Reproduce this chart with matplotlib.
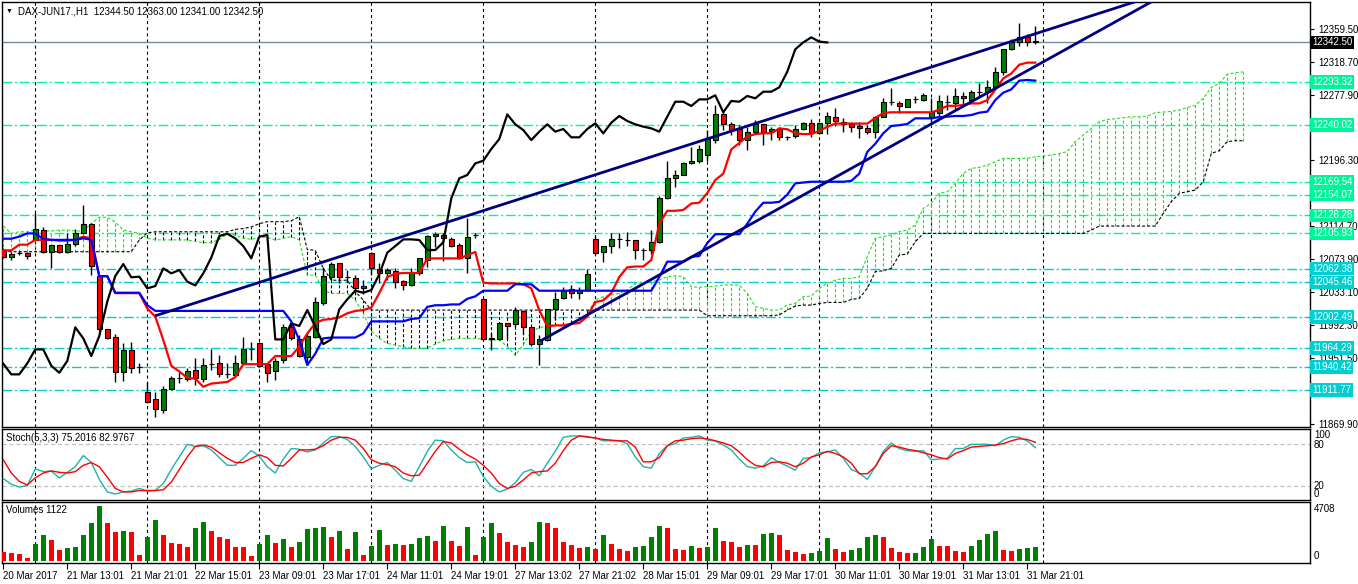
import matplotlib
matplotlib.use("Agg")
import matplotlib.pyplot as plt

plt.rcParams['font.family'] = ['Liberation Sans', 'DejaVu Sans']
plt.rcParams['lines.scale_dashes'] = False

W, H = 1358, 584

# ---- H1 candles, DAX-JUN17 (bar 0 = 20 Mar 19:01) ----
opens = [12085, 12076.3, 12082, 12082, 12097.8, 12110.2, 12082.9, 12091.2, 12082.9, 12092.4,
         12106.9, 12117.2, 12053.2, 11987, 11977.6, 11934.7, 11961.1, 11940, 11909.5, 11900.4,
         11887.2, 11912.8, 11926.4, 11925.6, 11936.3, 11925.6, 11944.6, 11945, 11931.4, 11930.5,
         11945, 11962.3, 11970.6, 11944.2, 11936, 11949.1, 11989.6, 11974.7, 11953.3, 11978,
         12020.2, 12052.4, 12068.9, 12052.4, 12051.1, 12037.9, 12082.1, 12061.4, 12056.5, 12059.8,
         12047, 12041.6, 12056.5, 12073, 12102.7, 12104, 12098.6, 12091.6, 12075.1, 12104,
         12024.3, 11976, 11974.7, 11994.6, 11993.7, 12010.2, 11989.6, 11968.9, 11973.9, 12011.9,
         12025.5, 12036.7, 12032.5, 12035.8, 12098.6, 12083.3, 12090.3, 12098.6, 12097.8, 12097.8,
         12085.4, 12085.4, 12094.9, 12149.4, 12174.2, 12178.3, 12192.7, 12196, 12203, 12221.6,
         12253.4, 12241.1, 12235.3, 12221.6, 12231.2, 12241.1, 12232.8, 12235.3, 12225, 12226.6,
         12234.9, 12242.3, 12229.9, 12243.1, 12250.6, 12244.4, 12241.5, 12239, 12236.1, 12232,
         12250.6, 12269.1, 12267.9, 12262.9, 12272, 12271.2, 12250.6, 12254.7, 12269.1, 12267.1,
         12276.2, 12271.2, 12281.5, 12281.5, 12286.9, 12306.3, 12334, 12342.6, 12348.8, 12344.5]
highs = [12088, 12082.5, 12084.5, 12083, 12130.8, 12114.3, 12091.5, 12092, 12106.9, 12111,
         12141.1, 12119.2, 12054, 11987.5, 11980.9, 11970.6, 11971.8, 11946, 11922.3, 11909,
         11916.9, 11929.3, 11934.7, 11939.6, 11951.2, 11951.2, 11962.3, 11955.3, 11945, 11955.3,
         11978, 11971.8, 11971, 11945, 11952, 11993.7, 11993.7, 11980, 11982.1, 12027.6,
         12064.7, 12070.9, 12069, 12060.6, 12054.4, 12048.2, 12083, 12068.9, 12062.7, 12062.7,
         12048.2, 12062.7, 12075.1, 12104, 12108.1, 12106, 12101.9, 12093.6, 12124.6, 12106.9,
         12025.5, 11982.1, 11995, 11995.4, 12015.2, 12011, 11990, 11980, 12012.7, 12033.8,
         12040, 12042.1, 12040, 12061.4, 12102.7, 12091, 12106, 12106, 12108.1, 12098,
         12087.5, 12110.2, 12152.7, 12195.6, 12184.5, 12194.8, 12213.4, 12215.5, 12234, 12265,
         12258.8, 12244.4, 12240.2, 12238.2, 12246.4, 12242, 12238.2, 12238.2, 12226.6, 12240.2,
         12244.4, 12247.3, 12243.5, 12256.3, 12260.9, 12249.3, 12244.4, 12244.4, 12240.2, 12251.4,
         12273.3, 12285.7, 12270.4, 12272.5, 12276.2, 12279.5, 12273.3, 12277.4, 12277.4, 12285.7,
         12281.5, 12283.6, 12292.7, 12296, 12312.5, 12334, 12346.4, 12367, 12353, 12363]
lows = [12075, 12073, 12079, 12074, 12097.5, 12082, 12063.5, 12082, 12082, 12091,
        12106, 12054, 11985, 11975, 11922.3, 11923, 11933.4, 11932.6, 11896, 11878.9,
        11883.9, 11912, 11920.2, 11923, 11918.2, 11922.3, 11936.7, 11928.5, 11926.4, 11930,
        11945, 11949, 11940, 11922, 11925, 11946, 11974, 11953, 11943, 11977,
        12017, 12048, 12045, 12046, 12031.7, 12030.5, 12054.4, 12045, 12048, 12037.9,
        12035.9, 12041, 12054.4, 12064.7, 12089.5, 12072.2, 12089.5, 12073.9, 12056.5, 12099.8,
        11974, 11961.5, 11974, 11974.7, 11990.5, 11982, 11966, 11943, 11973, 11998.7,
        12025, 12025.5, 12024.3, 12035, 12081, 12071, 12082.1, 12087.5, 12090.3, 12073.8,
        12073, 12080.4, 12094, 12149, 12163.8, 12178, 12191.9, 12193.5, 12196, 12217.5,
        12234, 12227.8, 12215.4, 12209.2, 12230, 12215.4, 12221.6, 12221.6, 12221.6, 12223.7,
        12234, 12225, 12229, 12229, 12239, 12232, 12232, 12223.7, 12229, 12223.7,
        12250, 12265, 12255.5, 12262, 12267, 12270.4, 12244.4, 12250.6, 12258.8, 12258.8,
        12263, 12271, 12275.4, 12267, 12285.7, 12302.2, 12333, 12338.1, 12338.1, 12341]
closes = [12077, 12080.4, 12082, 12078, 12111, 12082.9, 12091.2, 12082.9, 12092.4, 12106.9,
          12117.2, 12065.6, 11987.1, 11976.8, 11934.7, 11961.1, 11939.6, 11940, 11897, 11888.8,
          11912.8, 11926.4, 11926.4, 11935.5, 11926.4, 11943.3, 11944.6, 11931.4, 11931.4, 11945,
          11962.3, 11962.3, 11942.1, 11933.4, 11948, 11989.6, 11976, 11954.1, 11978.9, 12021.4,
          12053.2, 12068, 12051.6, 12052.4, 12037.9, 12040.8, 12062.7, 12056.5, 12060.6, 12046.2,
          12041.6, 12056.5, 12076, 12102.7, 12105.6, 12099.8, 12090.3, 12075.1, 12101.9, 12104,
          11974.7, 11974.7, 11994.6, 11991.3, 12011.1, 11990.5, 11968.9, 11974.7, 12011.9, 12024.3,
          12035, 12032.5, 12035.8, 12055.3, 12082.1, 12090.3, 12098.6, 12098.6, 12097.8, 12085.4,
          12085.4, 12094.9, 12149.4, 12174.2, 12178.3, 12192.7, 12196, 12210.5, 12222.9, 12253.4,
          12241.1, 12234, 12221.6, 12232, 12241.1, 12232, 12235.3, 12225, 12225, 12235.3,
          12242.3, 12229.9, 12243.1, 12251.4, 12245.2, 12241.1, 12238.2, 12236.1, 12232, 12250.6,
          12269.1, 12269.1, 12263.8, 12272, 12272, 12277, 12256, 12270, 12269.1, 12276.2,
          12273.3, 12281.5, 12281.5, 12286.9, 12306.3, 12334, 12342.6, 12348.8, 12343.5, 12342.5]
volumes = [736, 657, 605, 289, 1394, 2078, 1710, 894, 1078, 1157,
           2078, 3025, 4366, 3025, 2314, 2393, 2314, 500, 1920, 3261,
           2078, 1447, 1368, 1131, 2630, 3103, 2393, 1920, 1762, 1131,
           1100, 421, 1368, 2078, 1447, 1762, 1131, 1525, 2551, 2630,
           2709, 1920, 2393, 973, 2314, 500, 1210, 2472, 1289, 1368,
           1270, 1368, 1841, 1999, 1604, 2788, 1604, 1210, 2709, 500,
           1920, 3025, 2236, 1525, 1289, 1131, 1525, 3103, 3025, 2630,
           1525, 1289, 1052, 1131, 973, 2078, 1368, 973, 815, 1131,
           1210, 1920, 2788, 2630, 973, 894, 1210, 1052, 1131, 2630,
           1604, 1525, 1131, 1289, 1270, 2157, 2236, 2078, 894, 736,
           579, 657, 815, 1841, 973, 736, 894, 1052, 1920, 2078,
           1920, 1052, 736, 650, 690, 1131, 1762, 1210, 1200, 815,
           736, 1210, 1683, 2157, 2393, 894, 815, 973, 1052, 1122]

# ---- Ichimoku ----
tenkan = [12085, 12085, 12092, 12092, 12098, 12098, 12098, 12097, 12097, 12098,
          12102, 12100, 12053, 12053, 12032, 12032, 12032, 12032, 12013, 12003,
          11974, 11942, 11935, 11927, 11926, 11916, 11920, 11921, 11922, 11928,
          11944, 11944, 11944, 11944, 11954, 11954, 11954, 11966, 11982, 11995,
          11999, 12000, 12002, 12007, 12010, 12011, 12014, 12032, 12052, 12056,
          12057, 12057, 12057, 12075, 12075, 12075, 12075, 12075, 12079, 12083,
          12045, 12044, 12044, 12044, 12044, 12043, 12038, 12011, 11991, 11992,
          11992, 11994, 11995, 12003, 12021, 12023, 12032, 12052, 12064, 12065,
          12065, 12073, 12118, 12134, 12134, 12135, 12143, 12144, 12156, 12172,
          12180, 12210, 12218, 12226, 12229, 12230, 12230, 12236, 12235, 12230,
          12229, 12229, 12233, 12238, 12242, 12242, 12242, 12242, 12242, 12249,
          12255, 12256, 12256, 12256, 12256, 12256, 12256, 12259, 12264, 12264,
          12265, 12267, 12267, 12271, 12284, 12298, 12304, 12315, 12317.5, 12317.5]
kijun = [12099.4, 12099.4, 12102, 12106, 12106, 12099, 12098, 12098, 12098, 12098,
         12100, 12098, 12053, 12053, 12032.5, 12032.5, 12032.5, 12032.5, 12017, 12010,
         12010, 12010, 12010, 12010, 12010, 12010, 12010, 12010, 12010, 12010,
         12010, 12010, 12010, 12010, 12010, 12010, 11997, 11974, 11943, 11957,
         11976, 11977, 11977, 11977, 11977, 11982, 11997, 11997, 11997, 11997,
         11997, 12000, 12001, 12015, 12017, 12017, 12018, 12018, 12025, 12028,
         12035, 12035, 12035, 12035, 12043, 12043, 12043, 12035, 12035, 12035,
         12035, 12035, 12035, 12035, 12035, 12035, 12035, 12035, 12035, 12035,
         12035, 12035, 12052, 12071, 12071, 12071, 12077, 12078, 12094, 12105,
         12105, 12105, 12105, 12118, 12133, 12144, 12144, 12145, 12154, 12168,
         12169, 12170, 12170, 12170, 12170, 12170, 12171, 12180, 12207, 12217,
         12230, 12239, 12240, 12241.5, 12248.5, 12248.5, 12248.5, 12250, 12250.6, 12251.4,
         12251.4, 12252.6, 12255.5, 12256.8, 12271.2, 12280.3, 12284.4, 12295.2, 12296, 12295.2]
span_a = [12115, 12106, 12108, 12108, 12110, 12109, 12109, 12110, 12110, 12109,
          12109, 12118, 12126, 12126, 12120, 12110, 12108, 12106, 12100, 12098,
          12098, 12098, 12098, 12098, 12096, 12094.5, 12094.5, 12098.6, 12105, 12104,
          12100, 12098.6, 12101, 12101, 12097.8, 12099.8, 12101.9, 12097.8, 12054.4, 12054.4,
          12035.9, 12031.7, 12031.7, 12031.7, 12023.5, 12007, 11985, 11976, 11969.8, 11967.7,
          11965.7, 11963.6, 11963.6, 11963.6, 11969, 11973.1, 11974.7, 11976, 11976, 11976,
          11974.7, 11973.9, 11973.9, 11966, 11955, 11968, 11984.2, 11989.2, 11991.3, 11992.5,
          11992.5, 11994.6, 11998.7, 12006.9, 12023.5, 12027.6, 12029.6, 12031.7, 12035.8, 12044.1,
          12044.9, 12046.2, 12048.2, 12052.4, 12053.6, 12052.4, 12040, 12039.2, 12040, 12040.8,
          12042.1, 12042.1, 12042.1, 12031.7, 12015.2, 12013.1, 12011, 12011, 12017.3, 12019.3,
          12027.6, 12028.4, 12037.9, 12044, 12048.2, 12050.3, 12050.3, 12052.3, 12077.1, 12099.8,
          12101.9, 12104, 12108.1, 12110.2, 12116.3, 12137, 12143.2, 12155.6, 12157.6, 12167.9,
          12180.3, 12186.5, 12187.8, 12190.6, 12194.8, 12198.9, 12198.9, 12198.9, 12198.9, 12201,
          12201.8, 12203, 12205, 12207.2, 12219.6, 12227.8, 12236.1, 12244.3, 12247.2, 12248,
          12249.3, 12250.5, 12250.5, 12251.3, 12255.5, 12256.3, 12257.1, 12258.8, 12262, 12264.6,
          12273.2, 12286.9, 12291.8, 12303.4, 12305, 12306]
span_b = [12083.3] * 17 + [12097.8, 12106.8] + [12108] * 10 + \
         [12111, 12112, 12114, 12118, 12120.5, 12120.5, 12120.5, 12121.7, 12126.7, 12086,
          12085, 12062.7, 12048, 12048, 12048, 12033.8, 12023.5] + [12011] * 42 + \
         [12004] * 9 + [12005, 12011, 12016,
          12017.2, 12017.2, 12019.3, 12020.5, 12020.5, 12020.5, 12024.2, 12025.5, 12037.9, 12058.5,
          12059.8, 12062.7, 12079.2, 12080.4, 12095.7] + [12106] * 21 + \
         [12110.1] + [12115.1] * 8 + \
         [12130.8, 12145.2, 12155.6, 12157.6, 12159.7, 12170, 12205.1, 12208.4, 12219.6, 12220.8, 12220.8]

# ---- Stochastic (5,3,3) ----
stoch_k = [31, 23, 19, 21, 45, 41, 42, 32, 40, 48, 64, 54, 30, 12, 9, 12, 13, 17, 13, 14,
           24, 44, 62, 80, 77, 78, 72, 61, 50, 50, 60, 71, 63, 48, 39, 59, 74, 73, 69, 72,
           82, 91, 91, 87, 77, 62, 45, 50, 54, 43, 31, 27, 48, 70, 86, 85, 72, 61, 54, 55,
           34, 20, 12, 16, 25, 40, 44, 35, 53, 70, 90, 92, 92, 90, 89, 85, 85, 85, 81, 62,
           48, 46, 67, 78, 81, 89, 90, 92, 86, 85, 79, 72, 59, 48, 46, 49, 61, 54, 49, 43,
           60, 61, 68, 69, 72, 60, 44, 39, 30, 48, 70, 82, 74, 71, 70, 71, 58, 59, 60, 74,
           74, 80, 80, 80, 78, 86, 91, 90, 85, 75.2016]
stoch_d = [58, 39, 27, 22, 32, 39, 42, 40, 39, 41, 50, 54, 48, 33, 17, 12, 12, 14, 14, 14,
           15, 26, 44, 62, 77, 79, 76, 68, 60, 54, 54, 60, 65, 61, 50, 49, 60, 72, 72, 73,
           78, 86, 90, 90, 86, 74, 58, 53, 51, 48, 39, 35, 36, 53, 70, 84, 82, 73, 65, 59,
           50, 39, 24, 17, 20, 29, 39, 41, 42, 53, 71, 86, 92, 91, 89, 87, 86, 85, 85, 76,
           55, 55, 61, 78, 85, 86, 88, 89, 88, 85, 82, 78, 69, 58, 50, 48, 54, 55, 53, 48,
           53, 62, 65, 70, 67, 62, 53, 38, 38, 48, 67, 78, 76, 73, 71, 68, 65, 61, 59, 67,
           71, 76, 77, 78, 79, 81, 85, 88, 87, 82.9767]

# ---- drawn objects ----
levels_green = [12293.32, 12240.02, 12169.54, 12154.07, 12128.28, 12105.93]
levels_cyan = [12062.38, 12045.46, 12002.49, 11964.29, 11940.42, 11911.77]
bid = 12342.50
trend_upper = ([19, 127], [12004.0, 12346.9])
trend_lower = ([67, 125], [11972.0, 12291.0])

# grid prices whose labels stay visible (the others sit under the level boxes)
price_ticks = [12359.50, 12318.70, 12277.90, 12196.30, 12114.70,
               12073.90, 12033.10, 11992.30, 11951.50, 11869.90]
time_labels = ["20 Mar 2017", "21 Mar 13:01", "21 Mar 21:01", "22 Mar 15:01", "23 Mar 09:01",
               "23 Mar 17:01", "24 Mar 11:01", "24 Mar 19:01", "27 Mar 13:02", "27 Mar 21:02",
               "28 Mar 15:01", "29 Mar 09:01", "29 Mar 17:01", "30 Mar 11:01", "30 Mar 19:01",
               "31 Mar 13:01", "31 Mar 21:01"]

GREEN_LVL = '#00F59B'
CYAN_LVL = '#00CED1'
CLOUD_UP = '#22DD22'
FS = 7


def frame(top, bottom):
    return [2 / W, 1 - bottom / H, (1310 - 2) / W, (bottom - top) / H]


def ptext(x, y, s, size=FS, **kw):
    fig.text(x / W, 1 - y / H, s, va='center', fontsize=size, **kw)


fig = plt.figure(figsize=(W / 100, H / 100), dpi=100)
ax = fig.add_axes(frame(2, 427))
ax_st = fig.add_axes(frame(429, 500))
ax_v = fig.add_axes(frame(502, 563))

n = len(closes)
xs = list(range(n))
xlim = (-0.16, 163.34)
grid_bars = list(range(4, 131, 14))

for a in (ax, ax_st, ax_v):
    a.set_xlim(*xlim)
    for g in grid_bars:
        a.axvline(g, color='black', lw=0.8, ls=(0, (2.2, 2.2)), zorder=0.5)
    for s in a.spines.values():
        s.set_linewidth(1.0)
    a.tick_params(axis='x', bottom=False, labelbottom=False)
    a.tick_params(axis='y', left=False, labelleft=False)

# ---- main panel ----
ax.set_ylim(11866.2, 12392.6)
ax.yaxis.tick_right()
ax.set_yticks(price_ticks)
ax.set_yticklabels(['%.2f' % p for p in price_ticks])
ax.tick_params(axis='y', right=True, labelright=True, length=3, pad=3, labelsize=FS)

for lv in levels_green:
    ax.axhline(lv, color=GREEN_LVL, lw=1, ls=(0, (7, 2, 1.5, 2)), zorder=1)
for lv in levels_cyan:
    ax.axhline(lv, color=CYAN_LVL, lw=1, ls=(0, (7, 2, 1.5, 2)), zorder=1)
ax.axhline(bid, color='#778899', lw=1, zorder=1.2)

# Kumo
cx = list(range(len(span_a)))
lo = [min(a, b) for a, b in zip(span_a, span_b)]
hi = [max(a, b) for a, b in zip(span_a, span_b)]
ccol = [CLOUD_UP if a >= b else 'black' for a, b in zip(span_a, span_b)]
ax.vlines(cx, lo, hi, colors=ccol, lw=0.8, linestyles=(0, (2.2, 1.5)), zorder=1.5)
ax.plot(cx, span_a, color=CLOUD_UP, lw=0.8, ls=(0, (2.2, 1.5)), zorder=1.6)
ax.plot(cx, span_b, color='black', lw=0.8, ls=(0, (2.2, 1.5)), zorder=1.6)

# candles
ax.vlines(xs, lows, highs, color='black', lw=1, zorder=3)
body_lo = [min(o, c) for o, c in zip(opens, closes)]
body_h = [abs(c - o) for o, c in zip(opens, closes)]
body_col = ['#008000' if c > o else '#FF0000' for o, c in zip(opens, closes)]
ax.bar(xs, body_h, bottom=body_lo, width=0.62, color=body_col,
       edgecolor='black', linewidth=0.8, zorder=3.1)

# Ichimoku lines
ax.plot(xs, tenkan, color='#FF0000', lw=1.6, zorder=4)
ax.plot(xs, kijun, color='#0000FF', lw=1.6, zorder=4.1)
ax.plot(xs[:n - 26], closes[26:], color='black', lw=1.6, zorder=4.2)

# trend rays
for bx, by in (trend_upper, trend_lower):
    slope = (by[1] - by[0]) / (bx[1] - bx[0])
    ax.plot([bx[0], xlim[1]], [by[0], by[0] + slope * (xlim[1] - bx[0])],
            color='#000080', lw=2, zorder=5, solid_capstyle='butt')

# right-hand price boxes
tr = ax.get_yaxis_transform()
for lv in levels_green + levels_cyan:
    col = GREEN_LVL if lv in levels_green else CYAN_LVL
    ax.text(1.0016, lv, '%.2f' % lv, transform=tr, color='white', fontsize=FS, va='center',
            ha='left', clip_on=False, zorder=10,
            bbox=dict(boxstyle='square,pad=0.18', fc=col, ec='none'))
ax.text(1.0016, bid, '%.2f' % bid, transform=tr, color='white', fontsize=FS, va='center',
        ha='left', clip_on=False, zorder=10,
        bbox=dict(boxstyle='square,pad=0.18', fc='black', ec='none'))

# ---- stochastic ----
ax_st.set_ylim(0.43, 101.9)
for lv in (20, 80):
    ax_st.axhline(lv, color='#C0C0C0', lw=0.9, ls=(0, (3, 2)), zorder=0.6)
ax_st.plot(xs, stoch_k, color='#20B2AA', lw=1, zorder=3)
ax_st.plot(xs, stoch_d, color='#FF0000', lw=1, zorder=3.1)

# ---- volumes ----
ax_v.set_ylim(-134, 4708)
vol_col = ['#FF0000'] + ['#008000' if volumes[i] > volumes[i - 1] else '#FF0000'
                         for i in range(1, n)]
ax_v.bar(xs, volumes, width=0.56, color=vol_col, zorder=3)
ax_v.set_xticks(list(range(0, n, 8)))
ax_v.set_xticklabels(time_labels, ha='left')
ax_v.tick_params(axis='x', bottom=True, labelbottom=True, length=4, pad=2, labelsize=FS)

# ---- header texts ----
ptext(6, 11, '\u25bc', size=5)
ptext(18, 11, 'DAX-JUN17.,H1  12344.50 12363.00 12341.00 12342.50')
ptext(6, 438, 'Stoch(5,3,3) 75.2016 82.9767')
ptext(6, 510, 'Volumes 1122')
ptext(1314, 435, '100')
ptext(1314, 445, '80')
ptext(1314, 486, '20')
ptext(1314, 494, '0')
ptext(1314, 509, '4708')
ptext(1314, 556, '0')

fig.savefig('out.png', dpi=100)
